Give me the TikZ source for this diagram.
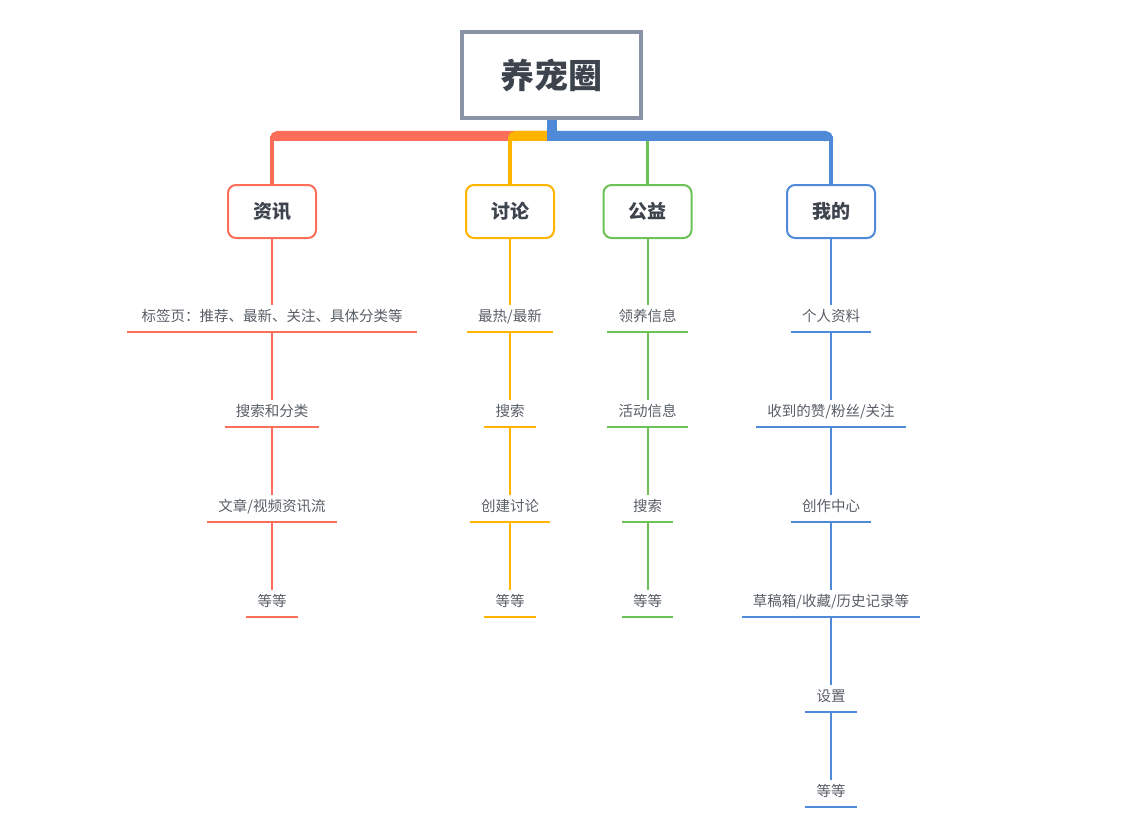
\documentclass[tikz,border=0pt]{standalone}
\usepackage{fontspec}
\setmainfont{Noto Sans CJK SC}
\usepackage{xcolor}
\usetikzlibrary{calc}

\definecolor{zxred}{HTML}{FA6E5A}
\definecolor{tlyellow}{HTML}{FFB400}
\definecolor{gygreen}{HTML}{6CC256}
\definecolor{wdblue}{HTML}{4E8AD8}
\definecolor{rootgray}{HTML}{8A93A5}
\definecolor{titletext}{HTML}{3E444E}
\definecolor{itemtext}{HTML}{585E66}

\tikzset{
    rootbox/.style = {draw=rootgray, line width=4pt, fill=white,
                      minimum width=179pt, minimum height=86pt,
                      font=\bfseries\fontsize{34}{34}\selectfont, text=titletext},
    topic/.style = {draw, rounded corners=8pt, line width=2pt, fill=white,
                    minimum width=88pt, minimum height=53pt,
                    font=\bfseries\fontsize{19}{19}\selectfont, text=titletext},
    item/.style = {inner xsep=11pt, inner ysep=0pt, text height=16pt, text depth=11pt,
                   font=\fontsize{14.5}{14.5}\selectfont, text=itemtext,
                   append after command={(\tikzlastnode.south west) edge (\tikzlastnode.south east)}}
}

\begin{document}
\begin{tikzpicture}[x=1pt, y=-1pt]
                \useasboundingbox (0,0) rectangle (1146,840);

                \node[rootbox] (root) at (551.5,75) {养宠圈};
                \coordinate (bar) at ($(root.south)+(0,16)$);

                \begin{scope}[every node/.style = {topic}]
                    \node[draw=zxred]    (zx) at (272,211.5)   {资讯};
                    \node[draw=tlyellow] (tl) at (510,211.5)   {讨论};
                    \node[draw=gygreen]  (gy) at (647.5,211.5) {公益};
                    \node[draw=wdblue]   (wd) at (831,211.5)   {我的};
                \end{scope}

                % branches from the root
                \begin{scope}[line width=4pt]
                     \draw[zxred]    (zx.north |- bar) -- (zx.north);
                     \draw[tlyellow] (tl.north |- bar) -- (tl.north);
                     \draw[gygreen, line width=3pt] (gy.north |- bar) -- (gy.north);
                     \draw[wdblue]   (wd.north |- bar) -- (wd.north);
                \end{scope}
                \begin{scope}[line width=10pt, rounded corners=3pt]
                     \draw[zxred]    (bar) -| ($(zx.north)+(3,-43)$);
                     \draw[tlyellow] (bar) -| ($(tl.north)+(3,-43)$);
                     \draw[wdblue]   (bar) -| ($(wd.north)+(-3,-43)$);
                     \draw[wdblue, sharp corners] (root.south) -- ($(bar)+(0,5)$);
                \end{scope}

                % 资讯
                \begin{scope}[every node/.style = {item},
                                every edge/.style = {draw=zxred, line width=2pt}]
                    \node[minimum width=290pt] (zx1) at (272,318.5) {标签页：推荐、最新、关注、具体分类等};
                    \node (zx2) at (272,413.5) {搜索和分类};
                    \node (zx3) at (272,508.5) {文章/视频资讯流};
                    \node (zx4) at (272,603.5) {等等};
                    \path (zx) edge (zx1)
                          (zx1) edge (zx2)
                          (zx2) edge (zx3)
                          (zx3) edge (zx4);
                \end{scope}

                % 讨论
                \begin{scope}[every node/.style = {item},
                                every edge/.style = {draw=tlyellow, line width=2pt}]
                    \node (tl1) at (510,318.5) {最热/最新};
                    \node (tl2) at (510,413.5) {搜索};
                    \node (tl3) at (510,508.5) {创建讨论};
                    \node (tl4) at (510,603.5) {等等};
                    \path (tl) edge (tl1)
                          (tl1) edge (tl2)
                          (tl2) edge (tl3)
                          (tl3) edge (tl4);
                \end{scope}

                % 公益
                \begin{scope}[every node/.style = {item},
                                every edge/.style = {draw=gygreen, line width=2pt}]
                    \node (gy1) at (647.5,318.5) {领养信息};
                    \node (gy2) at (647.5,413.5) {活动信息};
                    \node (gy3) at (647.5,508.5) {搜索};
                    \node (gy4) at (647.5,603.5) {等等};
                    \path (gy) edge (gy1)
                          (gy1) edge (gy2)
                          (gy2) edge (gy3)
                          (gy3) edge (gy4);
                \end{scope}

                % 我的
                \begin{scope}[every node/.style = {item},
                                every edge/.style = {draw=wdblue, line width=2pt}]
                    \node (wd1) at (831,318.5) {个人资料};
                    \node (wd2) at (831,413.5) {收到的赞/粉丝/关注};
                    \node (wd3) at (831,508.5) {创作中心};
                    \node (wd4) at (831,603.5) {草稿箱/收藏/历史记录等};
                    \node (wd5) at (831,698.5) {设置};
                    \node (wd6) at (831,793.5) {等等};
                    \path (wd) edge (wd1)
                          (wd1) edge (wd2)
                          (wd2) edge (wd3)
                          (wd3) edge (wd4)
                          (wd4) edge (wd5)
                          (wd5) edge (wd6);
                \end{scope}
\end{tikzpicture}
\end{document}
